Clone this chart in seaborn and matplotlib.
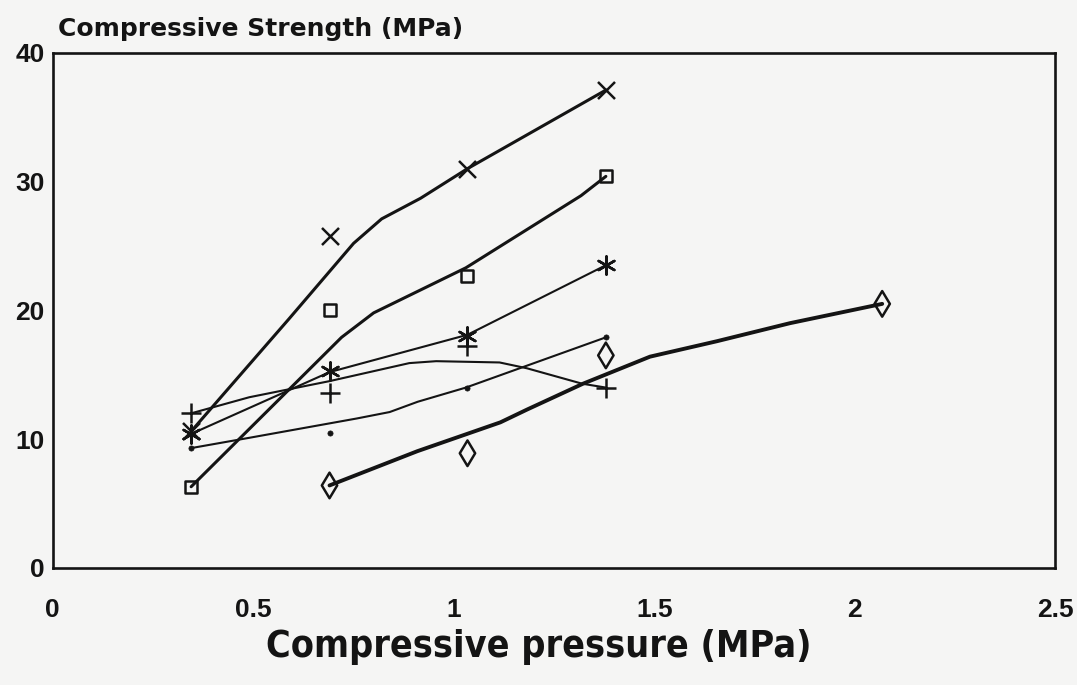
import numpy as np
import pandas as pd
import matplotlib
matplotlib.use("Agg")
import matplotlib.pyplot as plt
import seaborn as sns

# ---- data ----
pressure = [0.345, 0.69, 1.034, 1.379]
pressure_d = [0.69, 1.034, 1.379, 2.068]

cross_pts = [10.6, 25.8, 31.0, 37.1]
square_pts = [6.3, 20.0, 22.7, 30.4]
star_pts = [10.4, 15.3, 18.0, 23.5]
plus_pts = [12.0, 13.6, 17.2, 14.0]
dot_pts = [9.3, 10.5, 14.0, 17.9]
diamond_pts = [6.4, 8.9, 16.5, 20.5]

# fitted curves
cross_curve_x = [0.345, 0.588, 0.75, 0.82, 0.917, 1.034, 1.379]
cross_curve_y = [10.6, 19.3, 25.2, 27.1, 28.7, 31.0, 37.1]
square_curve_x = [0.345, 0.72, 0.80, 1.03, 1.317, 1.379]
square_curve_y = [6.3, 17.9, 19.8, 23.3, 28.9, 30.4]
star_curve_x = [0.345, 0.69, 1.034, 1.379]
star_curve_y = [10.4, 15.2, 18.1, 23.5]
plus_curve_x = [0.345, 0.49, 0.69, 0.889, 0.956, 1.114, 1.182, 1.32, 1.379]
plus_curve_y = [12.0, 13.25, 14.5, 15.9, 16.05, 15.95, 15.5, 14.3, 14.0]
dot_curve_x = [0.345, 0.49, 0.758, 0.84, 0.91, 1.03, 1.379]
dot_curve_y = [9.3, 10.1, 11.6, 12.1, 12.9, 14.0, 17.9]
diamond_curve_x = [0.69, 0.909, 1.116, 1.183, 1.322, 1.489, 1.656, 1.838, 2.068]
diamond_curve_y = [6.4, 9.06, 11.3, 12.3, 14.3, 16.4, 17.6, 19.0, 20.5]

x_ticks = [0, 0.5, 1, 1.5, 2, 2.5]
x_tick_labels = ["0", "0.5", "1", "1.5", "2", "2.5"]
y_ticks = [0, 10, 20, 30, 40]
y_tick_labels = ["0", "10", "20", "30", "40"]

sns.set_theme(style="white")
plt.rcParams["font.family"] = ["Liberation Sans", "DejaVu Sans"]

INK = "#141414"
BG = "#f5f5f4"

fig = plt.figure(figsize=(10.77, 6.85), dpi=100, facecolor=BG)
ax = fig.add_axes([0.049, 0.171, 0.931, 0.752])
ax.set_facecolor(BG)

curves = [
    (cross_curve_x, cross_curve_y, 2.2),
    (square_curve_x, square_curve_y, 2.2),
    (star_curve_x, star_curve_y, 1.5),
    (plus_curve_x, plus_curve_y, 1.5),
    (dot_curve_x, dot_curve_y, 1.5),
    (diamond_curve_x, diamond_curve_y, 2.8),
]
for cx, cy, lw in curves:
    df = pd.DataFrame({"x": cx, "y": cy})
    sns.lineplot(data=df, x="x", y="y", ax=ax, color=INK, linewidth=lw,
                 sort=False, estimator=None)

markers = [
    (pressure, cross_pts, "x", 150, 1.8, False),
    (pressure, square_pts, "s", 75, 1.8, True),
    (pressure, star_pts, (6, 2, 0), 170, 1.8, False),
    (pressure, plus_pts, "+", 200, 1.8, False),
    (pressure, dot_pts, "o", 14, 0.5, False),
    (pressure_d, diamond_pts, "d", 170, 1.8, True),
]
for mx, my, mk, s, lw, hollow in markers:
    df = pd.DataFrame({"x": mx, "y": my})
    if hollow:
        sns.scatterplot(data=df, x="x", y="y", ax=ax, marker=mk, s=s,
                        facecolor="none", edgecolor=INK, linewidth=lw, zorder=5)
    else:
        sns.scatterplot(data=df, x="x", y="y", ax=ax, marker=mk, s=s,
                        color=INK, edgecolor=INK, linewidth=lw, zorder=5)

ax.set_xlim(0, 2.5)
ax.set_ylim(0, 40)
ax.set_xticks(x_ticks)
ax.set_xticklabels(x_tick_labels, fontsize=19, fontweight="bold", color=INK)
ax.set_yticks(y_ticks)
ax.set_yticklabels(y_tick_labels, fontsize=19, fontweight="bold", color=INK)
ax.tick_params(axis="both", direction="in", length=9, width=1.8, color=INK)
ax.tick_params(axis="x", pad=22)
ax.tick_params(axis="y", pad=6)
for sp in ax.spines.values():
    sp.set_visible(True)
    sp.set_color(INK)
    sp.set_linewidth(1.9)

ax.set_xlabel("")
ax.set_ylabel("")

fig.text(0.054, 0.957, "Compressive Strength (MPa)", fontsize=18,
         fontweight="bold", color=INK, ha="left", va="center",
         family=["DejaVu Sans"])
fig.text(0.50, 0.055, "Compressive pressure (MPa)", fontsize=27,
         fontweight="bold", fontstretch="condensed", color=INK,
         ha="center", va="center", family=["DejaVu Sans"])

fig.savefig("out.png", dpi=100, facecolor=BG)
